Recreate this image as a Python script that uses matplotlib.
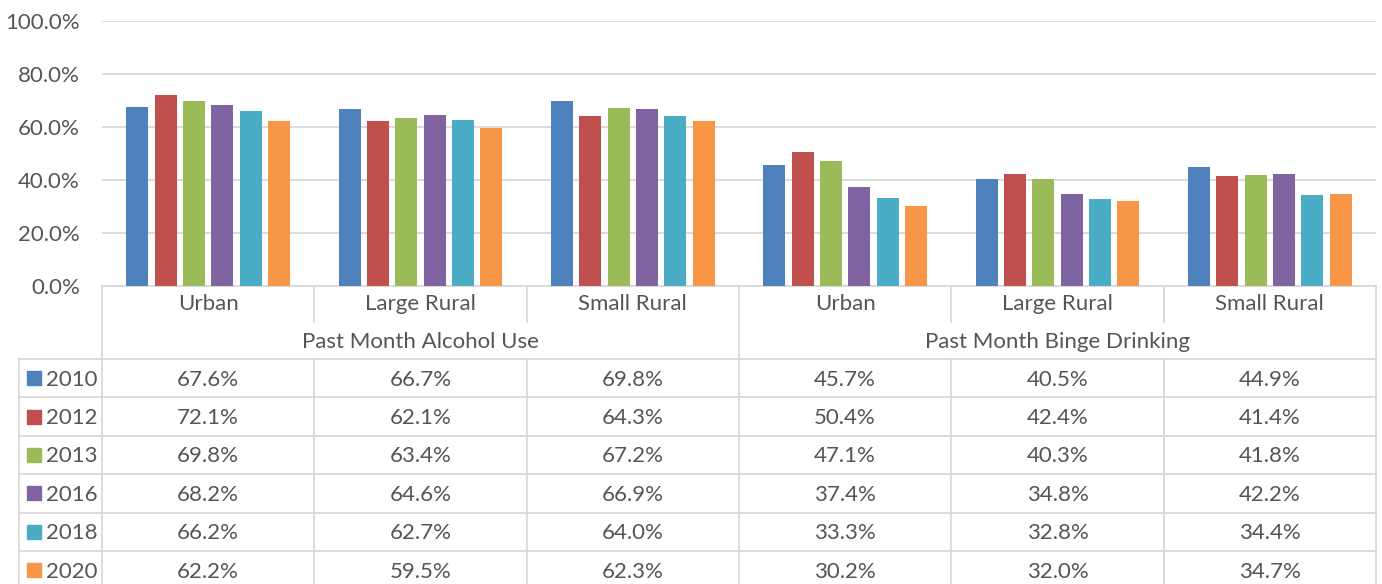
import numpy as np
import matplotlib.pyplot as plt
from matplotlib.patches import Rectangle
from matplotlib.transforms import blended_transform_factory

plt.rcParams['font.family'] = ['Lato', 'DejaVu Sans']

# data: columns = 3 areas x 2 measures
groups = ['Past Month Alcohol Use', 'Past Month Binge Drinking']
areas = ['Urban', 'Large Rural', 'Small Rural']
years = ['2010', '2012', '2013', '2016', '2018', '2020']
v2010 = [67.6, 66.7, 69.8, 45.7, 40.5, 44.9]
v2012 = [72.1, 62.1, 64.3, 50.4, 42.4, 41.4]
v2013 = [69.8, 63.4, 67.2, 47.1, 40.3, 41.8]
v2016 = [68.2, 64.6, 66.9, 37.4, 34.8, 42.2]
v2018 = [66.2, 62.7, 64.0, 33.3, 32.8, 34.4]
v2020 = [62.2, 59.5, 62.3, 30.2, 32.0, 34.7]
series = [v2010, v2012, v2013, v2016, v2018, v2020]
colors = ['#4F81BD', '#C0504D', '#9BBB59', '#8064A2', '#4BACC6', '#F79646']

W, H = 1382, 584
txt = '#555555'
grid = '#D9D9D9'
fs = 16

fig = plt.figure(figsize=(W / 100, H / 100), dpi=100)
ax = fig.add_axes([102 / W, (H - 286) / H, (1376 - 102) / W, 265 / H])
ncol = len(areas) * len(groups)
ax.set_xlim(0, ncol)
ax.set_ylim(0, 1)

step = 0.1333
for i, vals in enumerate(series):
    x = np.arange(ncol) + 0.5 + (i - 2.5) * step
    ax.bar(x, np.array(vals) / 100, width=0.104, color=colors[i], zorder=3)

ax.set_yticks(np.arange(0, 1.01, 0.2))
ax.set_yticklabels([f'{v * 100:.1f}%' for v in np.arange(0, 1.01, 0.2)])
ax.set_xticks([])
ax.tick_params(length=0, pad=16, labelsize=fs, labelcolor=txt)
ax.yaxis.grid(True, color=grid, lw=1.3)
ax.set_axisbelow(True)
for s in ax.spines.values():
    s.set_visible(False)

# data table below the chart
tr = blended_transform_factory(ax.transData, ax.transAxes)
px = 265.0
def ry(p):
    return (286 - p) / px
colw = (1376 - 102) / ncol
left = -(102 - 19) / colw
bottom = 610

def line(xs, ys):
    ax.plot(xs, ys, color=grid, lw=1.3, transform=tr, clip_on=False, zorder=1)

row_h = 38.4
row_edges = [359 + row_h * k for k in range(len(years))]
line([0, ncol], [ry(286), ry(286)])
for e in row_edges:
    line([left, ncol], [ry(e), ry(e)])
line([left, left], [ry(359), ry(bottom)])
for c in range(ncol + 1):
    if c % 3 == 0:
        line([c, c], [ry(286), ry(bottom)])
    else:
        line([c, c], [ry(286), ry(322)])
        line([c, c], [ry(359), ry(bottom)])

dy = 1.5
for c in range(ncol):
    ax.text(c + 0.5, ry(303 + dy), areas[c % 3], ha='center', va='center',
            fontsize=fs, color=txt, transform=tr)
for g, name in enumerate(groups):
    ax.text(g * 3 + 1.5, ry(340 + dy), name, ha='center', va='center',
            fontsize=fs, color=txt, transform=tr)

for j, (yr, vals) in enumerate(zip(years, series)):
    yc = ry(359 + row_h * (j + 0.5))
    ax.add_patch(Rectangle(((27 - 102) / colw, yc - 7 / px), 14 / colw, 14 / px,
                           color=colors[j], transform=tr, clip_on=False))
    yt = ry(359 + row_h * (j + 0.5) + dy)
    ax.text((46 - 102) / colw, yt, yr, ha='left', va='center',
            fontsize=fs, color=txt, transform=tr)
    for c, v in enumerate(vals):
        ax.text(c + 0.5, yt, f'{v:.1f}%', ha='center', va='center',
                fontsize=fs, color=txt, transform=tr)

fig.savefig('out.png', dpi=100)
